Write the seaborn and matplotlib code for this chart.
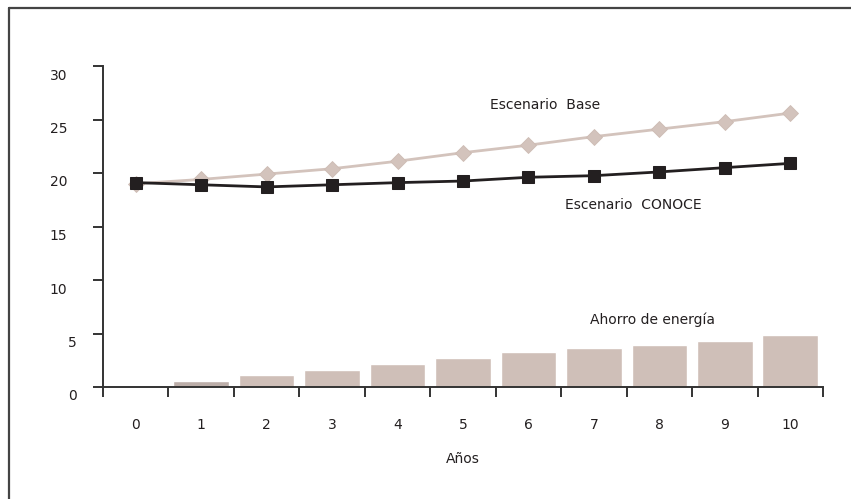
import matplotlib
matplotlib.use("Agg")
import matplotlib.pyplot as plt
from matplotlib.lines import Line2D
from matplotlib.transforms import ScaledTranslation
import seaborn as sns
import pandas as pd

# Años del horizonte de proyección
years = [0, 1, 2, 3, 4, 5, 6, 7, 8, 9, 10]
# Consumo en el escenario base y en el escenario CONOCE
base = [19.0, 19.4, 19.9, 20.4, 21.1, 21.9, 22.6, 23.4, 24.1, 24.8, 25.6]
conoce = [19.1, 18.9, 18.7, 18.9, 19.1, 19.25, 19.6, 19.75, 20.1, 20.5, 20.9]
# Ahorro de energía por año
ahorro = [0.0, 0.55, 1.1, 1.6, 2.15, 2.7, 3.3, 3.65, 3.95, 4.3, 4.85]
y_ticks = [0, 5, 10, 15, 20, 25, 30]
x_labels = [str(y) for y in years]

df = pd.DataFrame({"anio": years, "base": base, "conoce": conoce, "ahorro": ahorro})

sns.set_theme(style="white")
plt.rcParams["font.family"] = ["DejaVu Sans"]
plt.rcParams["text.color"] = "#231f20"

fig = plt.figure(figsize=(8.51, 4.99), dpi=100)
ax = fig.add_axes([103 / 851, 1 - 387 / 499, 720 / 851, (387 - 66) / 499])

bar_colors = ["#cfbfb8", "#bcaea9"] + ["#cfbfb8"] * 9
sns.barplot(data=df, x="anio", y="ahorro", hue="anio", palette=bar_colors,
            legend=False, width=0.85, ax=ax, saturation=1)

sns.lineplot(data=df, x="anio", y="base", color="#d3c3bc", linewidth=2.0,
             marker="D", markersize=8.5, markeredgecolor="#cdbbb3",
             markeredgewidth=0.6, ax=ax)
sns.lineplot(data=df, x="anio", y="conoce", color="#231f20", linewidth=2.0,
             marker="s", markersize=8.5, markeredgecolor="#231f20", ax=ax)

ax.set_xlim(-0.5, 10.5)
ax.set_ylim(0, 30)

# Marcas del eje x en los límites de cada año, etiquetas centradas
ax.set_xticks([i - 0.5 for i in range(len(years) + 1)])
ax.set_xticklabels([])
ax.set_xticks(range(len(years)), minor=True)
ax.set_xticklabels(x_labels, minor=True, fontsize=10, color="#231f20")
ax.tick_params(axis="x", which="major", direction="out", length=7.5, width=1.4,
               color="#333333", bottom=True)
ax.tick_params(axis="x", which="minor", length=0, pad=22.5, bottom=True)

ax.set_yticks(y_ticks)
ax.set_yticklabels([str(t) for t in y_ticks], fontsize=10, color="#231f20")
ax.tick_params(axis="y", direction="out", length=7.5, width=1.4,
               color="#333333", left=True, pad=14)
for lbl in ax.get_yticklabels():
    dx = 0.04 if len(lbl.get_text()) == 1 else -0.06
    lbl.set_transform(lbl.get_transform()
                      + ScaledTranslation(dx, -0.08, fig.dpi_scale_trans))

for side in ["top", "right"]:
    ax.spines[side].set_visible(False)
for side in ["left", "bottom"]:
    ax.spines[side].set_color("#333333")
    ax.spines[side].set_linewidth(1.4)

ax.set_xlabel("Años", fontsize=10, color="#231f20", labelpad=14.5)
ax.set_ylabel("")

ax.text(6.25, 26.35, "Escenario  Base", fontsize=10, ha="center", va="center")
ax.text(7.6, 17.0, "Escenario  CONOCE", fontsize=10, ha="center", va="center")
ax.text(7.89, 6.26, "Ahorro de energía", fontsize=10, ha="center", va="center")

# Marco exterior (lados superior e izquierdo)
fig.add_artist(Line2D([9 / 851, 9 / 851], [0, 1 - 8 / 499], color="#444444",
                      linewidth=1.6, transform=fig.transFigure))
fig.add_artist(Line2D([9 / 851, 1], [1 - 8 / 499, 1 - 8 / 499], color="#444444",
                      linewidth=1.6, transform=fig.transFigure))

fig.savefig("out.png", dpi=100)
